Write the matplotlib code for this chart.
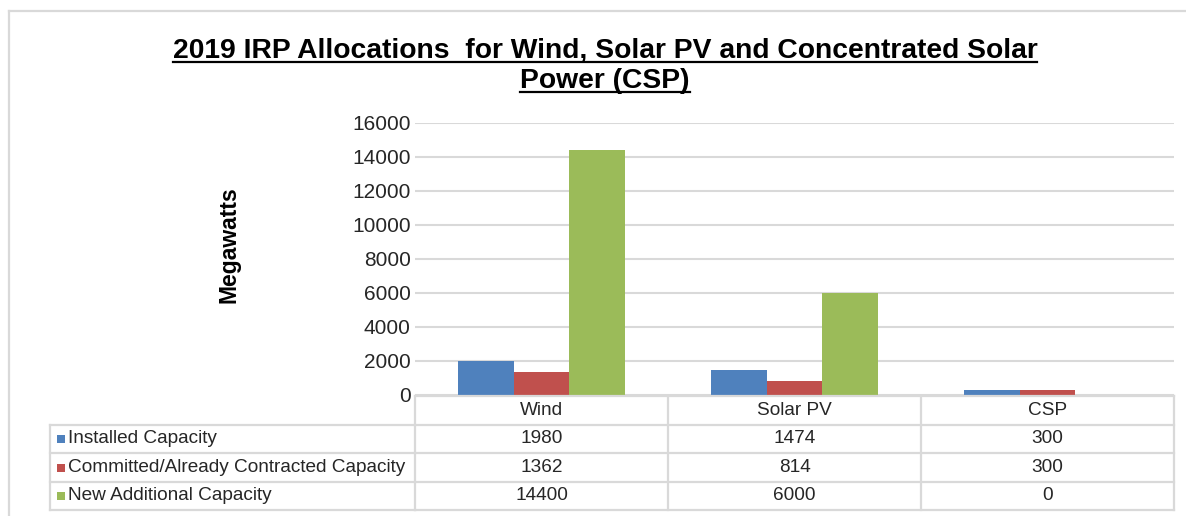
import numpy as np
import matplotlib
matplotlib.use("Agg")
import matplotlib.pyplot as plt
from matplotlib.lines import Line2D
from matplotlib.transforms import blended_transform_factory

plt.rcParams['font.family'] = ['Liberation Sans', 'DejaVu Sans']

# data
categories = ["Wind", "Solar PV", "CSP"]
series_names = ["Installed Capacity",
                "Committed/Already Contracted Capacity",
                "New Additional Capacity"]
installed = [1980, 1474, 300]
committed = [1362, 814, 300]
new_additional = [14400, 6000, 0]
series_values = [installed, committed, new_additional]
colors = ["#4F81BD", "#C0504D", "#9BBB59"]
yticks = [0, 2000, 4000, 6000, 8000, 10000, 12000, 14000, 16000]

W, H = 1186, 516
fig = plt.figure(figsize=(W / 100, H / 100), dpi=100)

def fx(px):
    return px / W

def fy(py):
    return 1 - py / H

grid_col = "#d9d9d9"
text_col = "#262626"

# main chart area
ax = fig.add_axes([fx(415), fy(395), fx(1174) - fx(415), fy(123) - fy(395)])
x = np.arange(len(categories))
bw = 0.221
for i, (name, vals) in enumerate(zip(series_names, series_values)):
    ax.bar(x + (i - 1) * bw, vals, width=bw, color=colors[i], zorder=3, label=name)

ax.set_xlim(-0.5, len(categories) - 0.5)
ax.set_ylim(0, 16000)
ax.set_yticks(yticks)
ax.set_yticklabels([str(v) for v in yticks], fontsize=15, color=text_col)
ax.set_xticks([])
ax.tick_params(axis='y', length=0, pad=3)
ax.grid(axis='y', color=grid_col, linewidth=1.5, zorder=0)
for s in ax.spines.values():
    s.set_visible(False)

fig.text(fx(229), fy(245), "Megawatts", rotation=90, fontsize=16.5,
         fontweight='bold', ha='center', va='center', color='black')

# data table under the chart
row_lines = [396, 424.5, 453, 482, 510]
tr = blended_transform_factory(ax.transData, fig.transFigure)
ncat = len(categories)

def hline(x0, x1, y, transform):
    fig.add_artist(Line2D([x0, x1], [fy(y), fy(y)], transform=transform,
                          color=grid_col, linewidth=1.6))

def vline(xv, y0, y1, transform):
    fig.add_artist(Line2D([xv, xv], [fy(y0), fy(y1)], transform=transform,
                          color=grid_col, linewidth=1.6))

# header row spans only the category columns
hline(-0.5, ncat - 0.5, row_lines[0], tr)
for y in row_lines[1:]:
    fig.add_artist(Line2D([fx(50), fx(415)], [fy(y), fy(y)], transform=fig.transFigure,
                          color=grid_col, linewidth=1.6))
    hline(-0.5, ncat - 0.5, y, tr)
for k in range(ncat + 1):
    vline(k - 0.5, row_lines[0], row_lines[-1], tr)
vline(fx(50), row_lines[1], row_lines[-1], fig.transFigure)

tsize = 13.7
centers = [(row_lines[j] + row_lines[j + 1]) / 2 for j in range(len(row_lines) - 1)]
for k, cat in enumerate(categories):
    fig.text(k, fy(centers[0]), cat, transform=tr, ha='center', va='center',
             fontsize=tsize, color=text_col)
for j, (name, vals) in enumerate(zip(series_names, series_values)):
    yc = centers[j + 1]
    fig.add_artist(Line2D([fx(61)], [fy(yc)], transform=fig.transFigure, marker='s',
                          markersize=5.5, color=colors[j], markeredgewidth=0))
    fig.text(fx(68), fy(yc), name, ha='left', va='center', fontsize=tsize, color=text_col)
    for k, v in enumerate(vals):
        fig.text(k, fy(yc), str(v), transform=tr, ha='center', va='center',
                 fontsize=tsize, color=text_col)

# outer border (top and left only visible)
fig.add_artist(Line2D([fx(9), 1], [fy(11), fy(11)], transform=fig.transFigure,
                      color=grid_col, linewidth=1.6))
fig.add_artist(Line2D([fx(9), fx(9)], [fy(11), 0], transform=fig.transFigure,
                      color=grid_col, linewidth=1.6))

# underlined title, two lines
title_lines = ["2019 IRP Allocations  for Wind, Solar PV and Concentrated Solar",
               "Power (CSP)"]
baselines = [58, 88]
titles = []
for line, yb in zip(title_lines, baselines):
    t = fig.text(fx(605), fy(yb), line, ha='center', va='baseline', fontsize=20.3,
                 fontweight='bold', color='black')
    titles.append((t, yb))

fig.canvas.draw()
renderer = fig.canvas.get_renderer()
for t, yb in titles:
    bb = t.get_window_extent(renderer)
    fig.add_artist(Line2D([bb.x0 / W, bb.x1 / W], [fy(yb + 4), fy(yb + 4)],
                          transform=fig.transFigure, color='black', linewidth=1.6))

fig.savefig("out.png", dpi=100, facecolor='white')
